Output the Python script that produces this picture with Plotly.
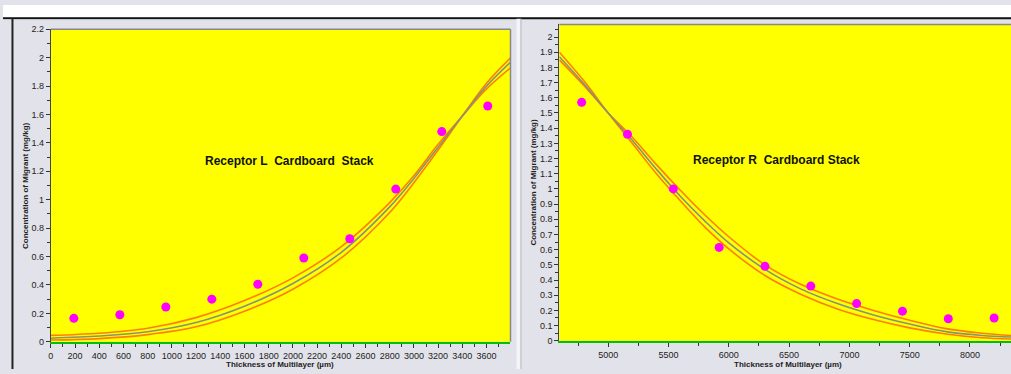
import plotly.graph_objects as go

# ---------------- data ----------------
# Left panel: Receptor L
L_meas_x = [190, 570, 950, 1330, 1710, 2090, 2470, 2850, 3230, 3610]
L_meas_y = [0.165, 0.19, 0.245, 0.30, 0.405, 0.59, 0.725, 1.075, 1.48, 1.66]
L_curve_x = [0, 400, 800, 1200, 1600, 2000, 2400, 2800, 3000, 3200, 3400, 3600, 3800]
L_center = [0.025, 0.04, 0.07, 0.135, 0.25, 0.41, 0.63, 0.95, 1.15, 1.37, 1.59, 1.80, 1.97]
L_upper = [0.045, 0.06, 0.095, 0.17, 0.29, 0.45, 0.67, 0.98, 1.17, 1.39, 1.59, 1.78, 1.93]
L_lower = [0.012, 0.022, 0.05, 0.105, 0.215, 0.37, 0.59, 0.91, 1.12, 1.35, 1.59, 1.82, 2.00]

# Right panel: Receptor R
R_meas_x = [4780, 5160, 5540, 5920, 6300, 6680, 7060, 7440, 7820, 8200]
R_meas_y = [1.57, 1.36, 1.00, 0.615, 0.49, 0.36, 0.245, 0.195, 0.145, 0.15]
R_curve_x = [4595, 4800, 5000, 5200, 5400, 5600, 5800, 6000, 6300, 6600, 6900, 7200, 7500, 7800, 8100, 8340]
R_center = [1.87, 1.69, 1.50, 1.32, 1.13, 0.95, 0.79, 0.645, 0.47, 0.34, 0.245, 0.17, 0.11, 0.06, 0.035, 0.025]
R_upper = [1.85, 1.68, 1.50, 1.34, 1.16, 0.99, 0.83, 0.685, 0.50, 0.37, 0.275, 0.20, 0.135, 0.08, 0.05, 0.035]
R_lower = [1.90, 1.71, 1.50, 1.30, 1.10, 0.92, 0.75, 0.605, 0.43, 0.305, 0.21, 0.14, 0.085, 0.045, 0.02, 0.012]

L_label = "Receptor L  Cardboard  Stack"
R_label = "Receptor R  Cardboard Stack"
x_title = "Thickness of Multilayer (µm)"
y_title = "Concentration of Migrant (mg/kg)"

# ---------------- figure ----------------
W, H = 1011, 374
ORANGE = "#ff7f00"
CENTER = "#86937a"
MAG = "#ff00ff"

fig = go.Figure()

def add_panel(xs, c, u, l, mx, my, xa, ya):
    for ys, col in [(u, ORANGE), (l, ORANGE), (c, CENTER)]:
        fig.add_trace(go.Scatter(x=xs, y=ys, mode="lines", line=dict(color=col, width=1.6, shape="spline", smoothing=1.0),
                                 xaxis=xa, yaxis=ya, showlegend=False, hoverinfo="skip"))
    fig.add_trace(go.Scatter(x=mx, y=my, mode="markers", marker=dict(color=MAG, size=9),
                             xaxis=xa, yaxis=ya, showlegend=False))

add_panel(L_curve_x, L_center, L_upper, L_lower, L_meas_x, L_meas_y, "x", "y")
add_panel(R_curve_x, R_center, R_upper, R_lower, R_meas_x, R_meas_y, "x2", "y2")

def px(x):
    return x / W

def py(y):
    return 1 - y / H

tickfont = dict(family="Arial", size=9, color="#222")
axis_common = dict(showgrid=False, zeroline=False, ticks="outside", ticklen=4, tickcolor="#333",
                   tickfont=tickfont, showline=True, fixedrange=True)

fig.update_layout(
    width=W, height=H,
    margin=dict(l=0, r=0, t=0, b=0),
    paper_bgcolor="#e2e2ea",
    plot_bgcolor="#ffff00",
    xaxis=dict(domain=[px(48), px(509)], range=[0, 3798], tickmode="linear", tick0=0, dtick=200,
               minor=dict(dtick=100, ticks="outside", ticklen=3, tickcolor="#333"),
               linecolor="#00c000", linewidth=2, anchor="y", **axis_common),
    yaxis=dict(domain=[py(346), py(25)], range=[0, 2.2], tickmode="linear", tick0=0, dtick=0.2,
               minor=dict(dtick=0.1, ticks="outside", ticklen=3, tickcolor="#333"),
               linecolor="#444", linewidth=1, anchor="x", **axis_common),
    xaxis2=dict(domain=[px(558), 1.0], range=[4595, 8340], tickmode="linear", tick0=5000, dtick=500,
                minor=dict(dtick=250, ticks="outside", ticklen=3, tickcolor="#333"),
                linecolor="#00c000", linewidth=2, anchor="y2", **axis_common),
    yaxis2=dict(domain=[py(345), py(20)], range=[0, 2.083], tickmode="linear", tick0=0, dtick=0.1,
                minor=dict(dtick=0.05, ticks="outside", ticklen=3, tickcolor="#333"),
                linecolor="#444", linewidth=1, anchor="x2", **axis_common),
)

shapes = [
    # white top strip and black line
    dict(type="rect", xref="paper", yref="paper", x0=0, x1=1, y0=py(12.5), y1=1, fillcolor="white", line_width=0, layer="below"),
    dict(type="line", xref="paper", yref="paper", x0=0, x1=1, y0=py(13.5), y1=py(13.5), line=dict(color="#111", width=2)),
    dict(type="line", xref="paper", yref="paper", x0=px(0), x1=px(516), y0=py(15), y1=py(15), line=dict(color="#c8c8d0", width=1)),
    # left panel frame
    dict(type="line", xref="paper", yref="paper", x0=px(9.5), x1=px(9.5), y0=0, y1=py(13.5), line=dict(color="#222", width=2)),
    # separator between panels
    dict(type="rect", xref="paper", yref="paper", x0=px(515), x1=px(519), y0=0, y1=py(14), fillcolor="#f4f4f8", line_width=0),
    dict(type="line", xref="paper", yref="paper", x0=px(519.5), x1=px(519.5), y0=0, y1=py(14), line=dict(color="#b8b8c0", width=1)),
    # plot borders (top and right grey)
    dict(type="line", xref="x domain", yref="y domain", x0=0, x1=1, y0=1, y1=1, line=dict(color="#888", width=1.5)),
    dict(type="line", xref="x domain", yref="y domain", x0=1, x1=1, y0=0, y1=1, line=dict(color="#888", width=1.5)),
    dict(type="line", xref="x2 domain", yref="y2 domain", x0=0, x1=1, y0=1, y1=1, line=dict(color="#888", width=1.5)),
]
fig.update_layout(shapes=shapes)

title_font = dict(family="Arial", size=8, color="#222")
common = dict(xref="paper", yref="paper", showarrow=False, xanchor="center", yanchor="middle")
ann = [
    dict(text="<b>%s</b>" % L_label, x=px(287), y=py(160), font=dict(family="Arial", size=12, color="#111"), **common),
    dict(text="<b>%s</b>" % R_label, x=px(776), y=py(159), font=dict(family="Arial", size=12, color="#111"), **common),
    dict(text="<b>%s</b>" % x_title, x=px(278), y=py(369), font=title_font, **common),
    dict(text="<b>%s</b>" % x_title, x=px(787), y=py(369), font=title_font, **common),
    dict(text="<b>%s</b>" % y_title, x=px(22), y=py(185), textangle=-90, font=title_font, **common),
    dict(text="<b>%s</b>" % y_title, x=px(532), y=py(182), textangle=-90, font=title_font, **common),
]
fig.update_layout(annotations=ann)

fig.write_html("out.html")
